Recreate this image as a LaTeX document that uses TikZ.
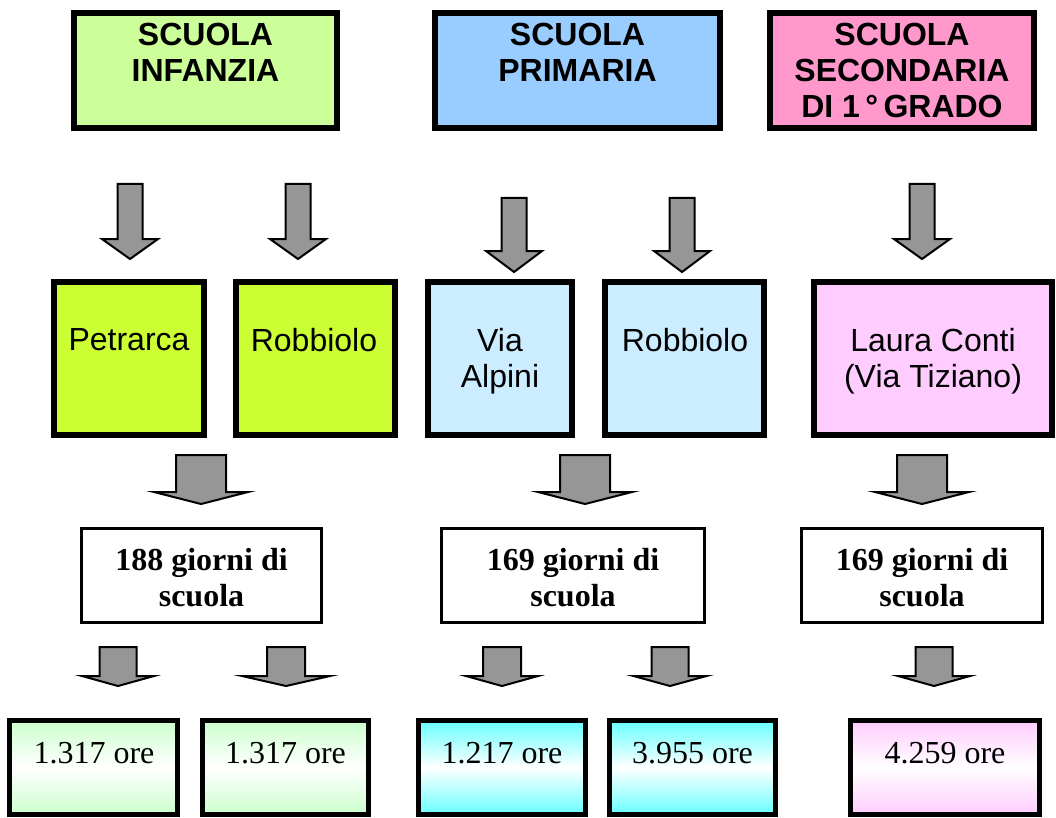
\documentclass[tikz,border=0pt]{standalone}
\usepackage{fontspec}
\setmainfont{Liberation Serif}
\setsansfont{Liberation Sans}
\definecolor{verdetit}{HTML}{CCFF99}
\definecolor{azzurrotit}{HTML}{99CCFF}
\definecolor{rosatit}{HTML}{FF99CC}
\definecolor{verdesc}{HTML}{CCFF33}
\definecolor{azzurrosc}{HTML}{CCECFF}
\definecolor{rosasc}{HTML}{FFCCFF}
\definecolor{verdeore}{HTML}{CCFFCC}
\definecolor{cianoore}{HTML}{66FFFF}
\definecolor{grigiofr}{HTML}{969696}
% freccia a blocco: x centro, semilarghezza gambo, semilarghezza punta, y alto, y punta inizio, y vertice
\newcommand{\giu}[6]{%
  \draw[freccia](#1-#2,#4)--(#1+#2,#4)--(#1+#2,#5)--(#1+#3,#5)--(#1,#6)--(#1-#3,#5)--(#1-#2,#5)--cycle;}

\begin{document}
\begin{tikzpicture}[x=1pt,y=-1pt,
    titolo/.style={draw,line width=6pt,inner sep=0pt,minimum height=115pt},
    sede/.style={draw,line width=6pt,inner sep=0pt,minimum height=153pt},
    giorni/.style={draw,line width=3pt,inner sep=0pt,minimum height=94pt},
    ore/.style={draw,line width=5pt,inner sep=0pt,minimum height=94pt,
      top color=#1,bottom color=#1,middle color=white},
    testotit/.style={anchor=north,inner sep=0pt,align=center,font=\sffamily\bfseries\fontsize{32}{36}\selectfont},
    testosede/.style={anchor=north,inner sep=0pt,align=center,font=\sffamily\fontsize{32}{36}\selectfont},
    testogg/.style={anchor=north,inner sep=0pt,align=center,font=\bfseries\fontsize{32}{36}\selectfont},
    testoore/.style={anchor=base,inner sep=0pt,font=\fontsize{32}{36}\selectfont},
    freccia/.style={fill=grigiofr,draw=black,line width=2pt,line join=miter}]
  \useasboundingbox(0,0)rectangle(1056,818);
  % ordini di scuola
  \node[titolo,fill=verdetit,minimum width=263pt](inf)at(205.5,70.5){};
  \node[titolo,fill=azzurrotit,minimum width=285pt](pri)at(577.5,70.5){};
  \node[titolo,fill=rosatit,minimum width=264pt](sec)at(902,70.5){};
  \node[testotit](tinf)at(205.5,22.5){SCUOLA\\INFANZIA};
  \node[testotit](tpri)at(577.5,22.5){SCUOLA\\PRIMARIA};
  \node[testotit](tsec)at(902,22.5){SCUOLA\\SECONDARIA\\DI 1\,°\,GRADO};
  \giu{130}{12.5}{28}{184}{239}{259}
  \giu{298}{12.5}{28}{184}{239}{259}
  \giu{514}{12.5}{28}{198}{251}{272}
  \giu{682}{12.5}{28}{198}{251}{272}
  \giu{922}{12.5}{28}{184}{239}{259}
  % plessi
  \node[sede,fill=verdesc,minimum width=150pt](pet)at(129,358.5){};
  \node[sede,fill=verdesc,minimum width=159pt](rob1)at(315.5,358.5){};
  \node[sede,fill=azzurrosc,minimum width=144pt](alp)at(500,358.5){};
  \node[sede,fill=azzurrosc,minimum width=159pt](rob2)at(684.5,358.5){};
  \node[sede,fill=rosasc,minimum width=238pt](con)at(933,358.5){};
  \node[testosede](tpet)at(129,328.5){Petrarca};
  \node[testosede](trob1)at(314,328.5){Robbiolo};
  \node[testosede](talp)at(500,328.5){Via\\Alpini};
  \node[testosede](trob2)at(685,328.5){Robbiolo};
  \node[testosede](tcon)at(933,328.5){Laura Conti\\(Via Tiziano)};
  \giu{201}{25}{47}{455}{492}{504}
  \giu{585}{25}{47}{455}{492}{504}
  \giu{922}{25}{47}{455}{492}{504}
  % giorni di scuola
  \node[giorni,minimum width=240pt](gg1)at(201.5,575.5){};
  \node[giorni,minimum width=263pt](gg2)at(573,575.5){};
  \node[giorni,minimum width=241pt](gg3)at(922,575.5){};
  \node[testogg](tgg1)at(201.5,548){188 giorni di\\scuola};
  \node[testogg](tgg2)at(573,548){169 giorni di\\scuola};
  \node[testogg](tgg3)at(922,548){169 giorni di\\scuola};
  \giu{118}{18.5}{36}{647}{676}{686}
  \giu{286}{19}{44}{647}{676}{686}
  \giu{502}{19}{36}{647}{676}{686}
  \giu{670}{18.5}{36.5}{647}{676}{686}
  \giu{934}{18.5}{36}{647}{676}{686}
  % monte ore
  \node[ore=verdeore,minimum width=168pt](ore1)at(93.5,767.5){};
  \node[ore=verdeore,minimum width=166pt](ore2)at(285.5,767.5){};
  \node[ore=cianoore,minimum width=167pt](ore3)at(502,767.5){};
  \node[ore=cianoore,minimum width=166pt](ore4)at(692.5,767.5){};
  \node[ore=rosasc,minimum width=189pt](ore5)at(945,767.5){};
  \node[testoore](tore1)at(94,763){1.317 ore};
  \node[testoore](tore2)at(285.5,763){1.317 ore};
  \node[testoore](tore3)at(502,763){1.217 ore};
  \node[testoore](tore4)at(692.5,763){3.955 ore};
  \node[testoore](tore5)at(945,763){4.259 ore};
\end{tikzpicture}
\end{document}
